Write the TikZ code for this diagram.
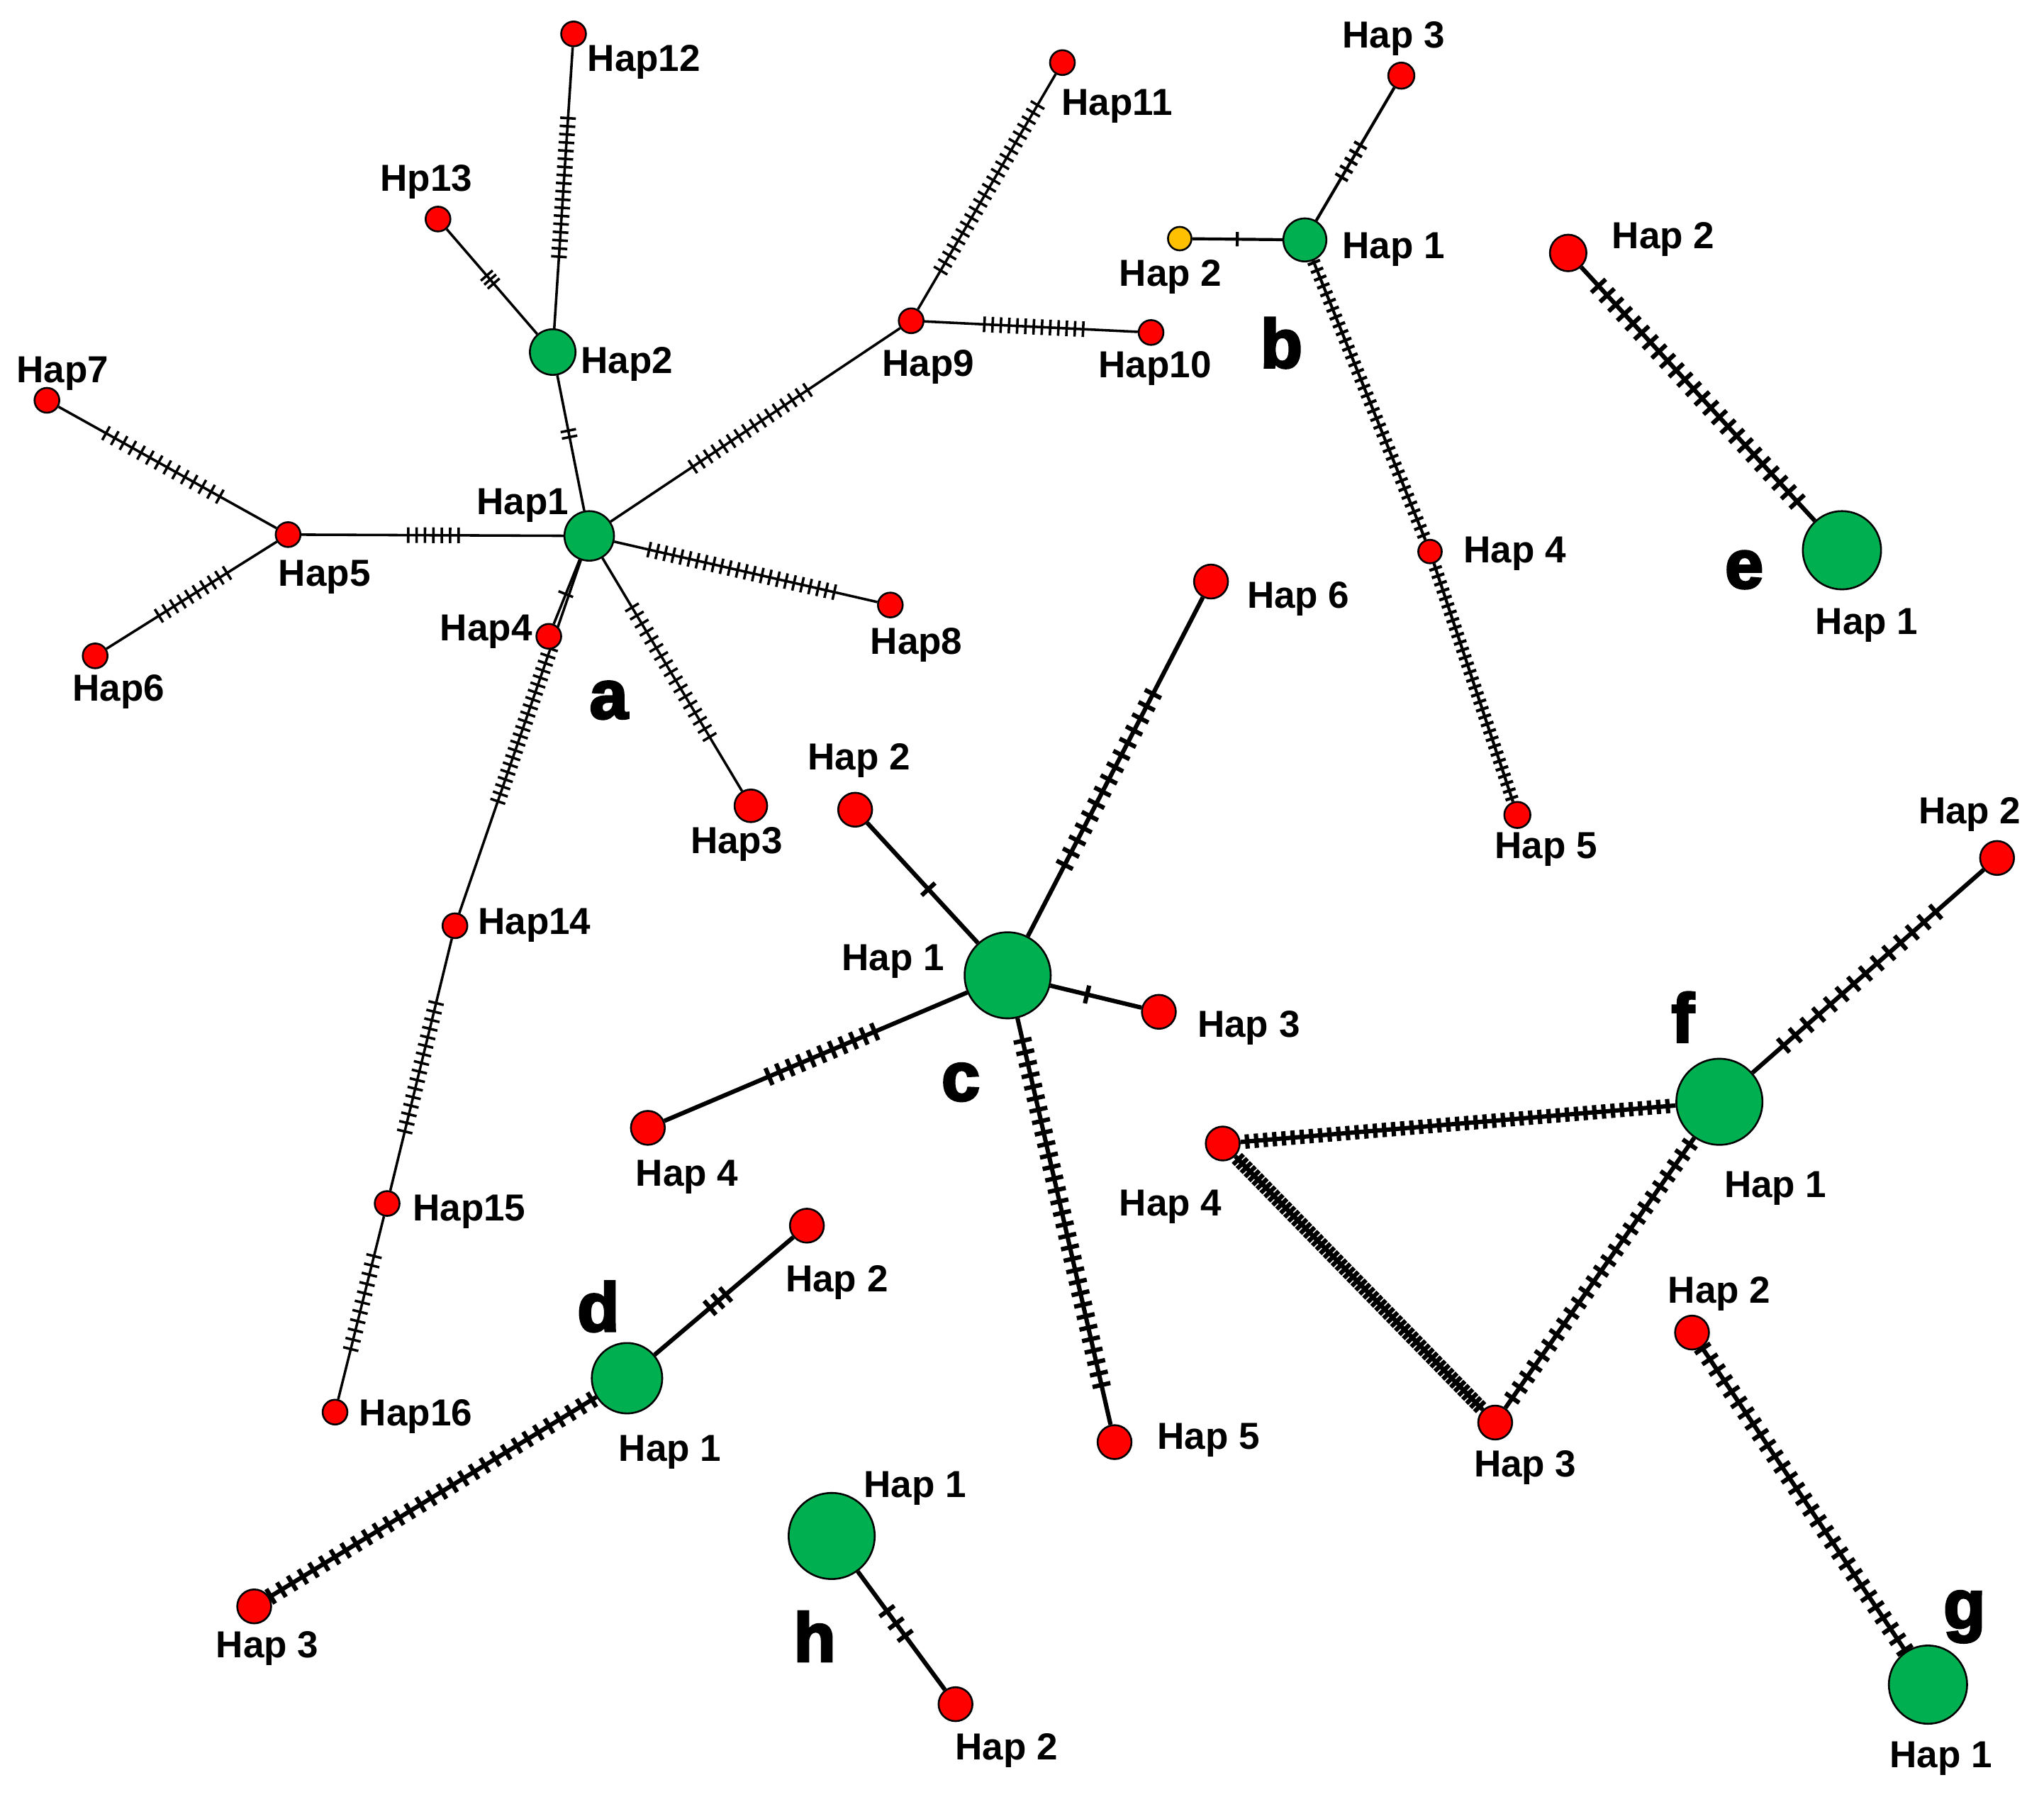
\documentclass[tikz,border=0pt]{standalone}
\usepackage{fontspec}
\setmainfont{Liberation Sans}
\newfontfamily\panelfont{Liberation Sans}[BoldFeatures={FakeBold=3.5}]
\usetikzlibrary{calc}
\pgfdeclarelayer{paper}
\pgfdeclarelayer{background}
\pgfsetlayers{paper,background,main}
\definecolor{hred}{RGB}{255,0,0}
\definecolor{hgreen}{RGB}{0,176,80}
\definecolor{hyel}{RGB}{255,192,0}
\tikzset{
  hap/.style={circle, draw=black, line width=0.4pt, inner sep=0pt},
  hr/.style={hap, fill=hred, minimum size=#1},
  hg/.style={hap, fill=hgreen, minimum size=#1},
  hy/.style={hap, fill=hyel, minimum size=#1},
  lbl/.style={font={\bfseries\fontsize{8.2}{9}\selectfont}, inner sep=0pt, yshift=-0.025cm},
  panel/.style={font={\panelfont\bfseries\fontsize{15}{17}\selectfont}, inner sep=0pt},
  thinedge/.style={line width=0.55pt},
  midedge/.style={line width=0.65pt},
  thickedge/.style={line width=0.95pt},
}
% style, from, to, n ticks, t0, t1, half tick length
\newcommand{\mutedge}[7]{%
  \draw[#1] (#2) -- (#3);
  \foreach \k in {1,...,#4}{%
    \pgfmathsetmacro{\mpos}{#5+(#6-#5)*(\k-0.5)/#4}%
    \draw[#1] ($(#2)!\mpos!(#3)!#7!90:(#3)$) -- ($(#2)!\mpos!(#3)!#7!-90:(#3)$);
  }%
}
\begin{document}
\begin{tikzpicture}[x=0.01cm, y=-0.01cm]
\useasboundingbox (0,0) rectangle (1568,1378);
\begin{pgfonlayer}{paper}
\fill[white] (0,0) rectangle (1568,1378);
\end{pgfonlayer}

% ---------------- network a ----------------
\node[hg=0.38cm] (aH1) at (452,411) {};
\node[hg=0.35cm] (aH2) at (424,270) {};
\node[hr=0.19cm] (aH12) at (440,26) {};
\node[hr=0.19cm] (aH13) at (336,168) {};
\node[hr=0.19cm] (aH7) at (36,307) {};
\node[hr=0.19cm] (aH5) at (221,410) {};
\node[hr=0.19cm] (aH6) at (73,503) {};
\node[hr=0.19cm] (aH4) at (421,488) {};
\node[hr=0.19cm] (aH8) at (683,464) {};
\node[hr=0.25cm] (aH3) at (576,618) {};
\node[hr=0.19cm] (aH9) at (699,246) {};
\node[hr=0.19cm] (aH10) at (883,255) {};
\node[hr=0.19cm] (aH11) at (815,48) {};
\node[hr=0.19cm] (aH14) at (349,710) {};
\node[hr=0.19cm] (aH15) at (297,923) {};
\node[hr=0.19cm] (aH16) at (257,1083) {};

\node[lbl] (aL12) at (494,45) {Hap12};
\node[lbl] (aL13) at (327,137) {Hp13};
\node[lbl] (aL2) at (481,277) {Hap2};
\node[lbl] (aL7) at (48,284) {Hap7};
\node[lbl] (aL5) at (249,440) {Hap5};
\node[lbl] (aL6) at (91,528) {Hap6};
\node[lbl] (aL1) at (401,385) {Hap1};
\node[lbl] (aL4) at (373,482) {Hap4};
\node[lbl] (aL8) at (703,492) {Hap8};
\node[lbl] (aL3) at (565,645) {Hap3};
\node[lbl] (aL9) at (712,279) {Hap9};
\node[lbl] (aL10) at (886,280) {Hap10};
\node[lbl] (aL11) at (857,79) {Hap11};
\node[lbl] (aL14) at (410,707) {Hap14};
\node[lbl] (aL15) at (360,927) {Hap15};
\node[lbl] (aL16) at (319,1084) {Hap16};
\node[panel] (pa) at (467,537) {a};

% ---------------- network b ----------------
\node[hg=0.33cm] (bH1) at (1001,184) {};
\node[hy=0.18cm] (bH2) at (905,183) {};
\node[hr=0.20cm] (bH3) at (1075,58) {};
\node[hr=0.18cm] (bH4) at (1097,423) {};
\node[hr=0.20cm] (bH5) at (1164,625) {};
\node[lbl] (bL3) at (1069,27) {Hap 3};
\node[lbl] (bL1) at (1069,189) {Hap 1};
\node[lbl] (bL2) at (898,210) {Hap 2};
\node[lbl] (bL4) at (1162,422) {Hap 4};
\node[lbl] (bL5) at (1186,649) {Hap 5};
\node[panel] (pb) at (983,263) {b};

% ---------------- network c ----------------
\node[hg=0.66cm] (cH1) at (773,748) {};
\node[hr=0.26cm] (cH2) at (656,621) {};
\node[hr=0.26cm] (cH3) at (889,776) {};
\node[hr=0.26cm] (cH4) at (497,865) {};
\node[hr=0.26cm] (cH5) at (855,1106) {};
\node[hr=0.26cm] (cH6) at (929,446) {};
\node[lbl] (cL2) at (659,581) {Hap 2};
\node[lbl] (cL1) at (685,735) {Hap 1};
\node[lbl] (cL3) at (958,786) {Hap 3};
\node[lbl] (cL4) at (527,900) {Hap 4};
\node[lbl] (cL5) at (927,1102) {Hap 5};
\node[lbl] (cL6) at (996,457) {Hap 6};
\node[panel] (pc) at (737,830) {c};

% ---------------- network d ----------------
\node[hg=0.54cm] (dH1) at (481,1057) {};
\node[hr=0.26cm] (dH2) at (619,940) {};
\node[hr=0.26cm] (dH3) at (195,1232) {};
\node[lbl] (dL2) at (642,981) {Hap 2};
\node[lbl] (dL1) at (514,1111) {Hap 1};
\node[lbl] (dL3) at (205,1262) {Hap 3};
\node[panel] (pd) at (459,1002) {d};

% ---------------- network e ----------------
\node[hg=0.60cm] (eH1) at (1413,422) {};
\node[hr=0.28cm] (eH2) at (1203,194) {};
\node[lbl] (eL2) at (1276,181) {Hap 2};
\node[lbl] (eL1) at (1432,477) {Hap 1};
\node[panel] (pe) at (1338,437) {e};

% ---------------- network f ----------------
\node[hg=0.66cm] (fH1) at (1319,845) {};
\node[hr=0.26cm] (fH2) at (1532,658) {};
\node[hr=0.26cm] (fH3) at (1147,1091) {};
\node[hr=0.26cm] (fH4) at (938,877) {};
\node[lbl] (fL2) at (1511,622) {Hap 2};
\node[lbl] (fL1) at (1362,909) {Hap 1};
\node[lbl] (fL4) at (898,923) {Hap 4};
\node[lbl] (fL3) at (1170,1123) {Hap 3};
\node[panel] (pf) at (1291,780) {f};

% ---------------- network g ----------------
\node[hg=0.60cm] (gH1) at (1479,1292) {};
\node[hr=0.26cm] (gH2) at (1298,1022) {};
\node[lbl] (gL2) at (1319,990) {Hap 2};
\node[lbl] (gL1) at (1489,1346) {Hap 1};
\node[panel] (pg) at (1507,1240) {g};

% ---------------- network h ----------------
\node[hg=0.66cm] (hH1) at (638,1178) {};
\node[hr=0.26cm] (hH2) at (733,1307) {};
\node[lbl] (hL1) at (702,1139) {Hap 1};
\node[lbl] (hL2) at (772,1340) {Hap 2};
\node[panel] (ph) at (625,1255) {h};

\begin{pgfonlayer}{background}
% a
\mutedge{thinedge}{aH2}{aH12}{18}{0.287}{0.748}{0.06cm}
\mutedge{thinedge}{aH2}{aH13}{3}{0.50}{0.59}{0.06cm}
\mutedge{thinedge}{aH1}{aH2}{2}{0.52}{0.59}{0.06cm}
\mutedge{thinedge}{aH1}{aH5}{7}{0.42}{0.615}{0.06cm}
\mutedge{thinedge}{aH5}{aH7}{14}{0.265}{0.773}{0.06cm}
\mutedge{thinedge}{aH5}{aH6}{10}{0.297}{0.689}{0.06cm}
\mutedge{thinedge}{aH1}{aH9}{16}{0.31}{0.69}{0.06cm}
\mutedge{thinedge}{aH9}{aH11}{23}{0.18}{0.85}{0.06cm}
\mutedge{thinedge}{aH9}{aH10}{13}{0.288}{0.734}{0.06cm}
\mutedge{thinedge}{aH1}{aH8}{24}{0.186}{0.827}{0.06cm}
\mutedge{thinedge}{aH1}{aH3}{17}{0.25}{0.76}{0.06cm}
\mutedge{thinedge}{aH1}{aH4}{1}{0.55}{0.61}{0.06cm}
\mutedge{thinedge}{aH14}{aH1}{22}{0.31}{0.72}{0.06cm}
\mutedge{thinedge}{aH14}{aH15}{16}{0.263}{0.756}{0.06cm}
\mutedge{thinedge}{aH15}{aH16}{11}{0.23}{0.72}{0.06cm}
% b
\mutedge{midedge}{bH2}{bH1}{1}{0.43}{0.49}{0.055cm}
\mutedge{midedge}{bH1}{bH3}{5}{0.357}{0.60}{0.055cm}
\mutedge{midedge}{bH1}{bH4}{36}{0.06}{0.96}{0.05cm}
\mutedge{midedge}{bH4}{bH5}{32}{0.05}{0.95}{0.05cm}
% c
\mutedge{thickedge}{cH1}{cH2}{1}{0.49}{0.55}{0.07cm}
\mutedge{thickedge}{cH1}{cH3}{1}{0.50}{0.55}{0.07cm}
\mutedge{thickedge}{cH1}{cH4}{11}{0.355}{0.678}{0.07cm}
\mutedge{thickedge}{cH1}{cH6}{15}{0.265}{0.73}{0.07cm}
\mutedge{thickedge}{cH1}{cH5}{31}{0.128}{0.89}{0.07cm}
% d
\mutedge{thickedge}{dH1}{dH2}{3}{0.44}{0.57}{0.07cm}
\mutedge{thickedge}{dH1}{dH3}{31}{0.08}{0.97}{0.065cm}
% e
\mutedge{thickedge}{eH2}{eH1}{24}{0.095}{0.852}{0.075cm}
% f
\mutedge{thickedge}{fH4}{fH1}{47}{0.04}{0.905}{0.055cm}
\mutedge{thickedge}{fH4}{fH3}{62}{0.05}{0.95}{0.055cm}
\mutedge{thickedge}{fH3}{fH1}{25}{0.06}{0.884}{0.065cm}
\mutedge{thickedge}{fH1}{fH2}{14}{0.21}{0.80}{0.07cm}
% g
\mutedge{thickedge}{gH2}{gH1}{29}{0.03}{0.917}{0.07cm}
% h
\mutedge{thickedge}{hH1}{hH2}{3}{0.41}{0.63}{0.07cm}
\end{pgfonlayer}
\end{tikzpicture}
\end{document}
